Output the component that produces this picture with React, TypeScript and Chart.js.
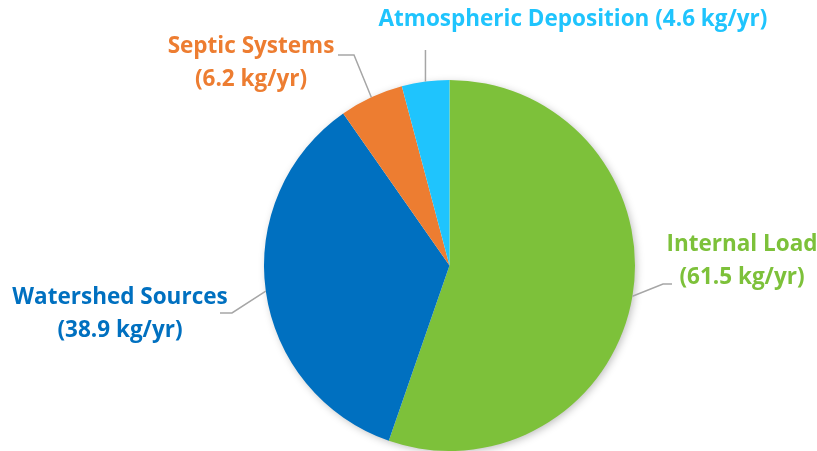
import React, { useEffect, useRef } from "react";
import { Chart, registerables } from "chart.js";

Chart.register(...registerables);

const categories = ["Internal Load", "Watershed Sources", "Septic Systems", "Atmospheric Deposition"];
const loads = [61.5, 38.9, 6.2, 4.6];
const valueLabels = ["(61.5 kg/yr)", "(38.9 kg/yr)", "(6.2 kg/yr)", "(4.6 kg/yr)"];
const colors = ["#7DC13A", "#0070C0", "#ED7D31", "#1FC4FD"];

// label layout: leader elbow + end, text anchor, single/two-line
const labelLayout = [
  { elbow: [663, 284], end: [672, 284], text: [742, 245], lines: 2 },
  { elbow: [232, 313], end: [220, 313], text: [120, 298], lines: 2 },
  { elbow: [354, 55], end: [338, 55], text: [251, 47], lines: 2 },
  { elbow: null, end: null, text: [573, 20], lines: 1, vertTo: 50 },
];

const FONT = "bold 22.5px 'Open Sans', Lato, sans-serif";

const shadowPlugin = {
  id: "pieShadow",
  beforeDatasetsDraw(chart: any) {
    const meta = chart.getDatasetMeta(0);
    const arc = meta.data[0];
    if (!arc) return;
    const { x, y, outerRadius } = arc.getProps(["x", "y", "outerRadius"], true);
    const ctx = chart.ctx;
    ctx.save();
    ctx.shadowColor = "rgba(0,0,0,0.28)";
    ctx.shadowBlur = 9;
    ctx.shadowOffsetX = 2;
    ctx.shadowOffsetY = 2;
    ctx.fillStyle = "#ffffff";
    ctx.beginPath();
    ctx.arc(x, y, outerRadius - 1, 0, Math.PI * 2);
    ctx.fill();
    ctx.restore();
  },
};

const labelPlugin = {
  id: "leaderLabels",
  afterDatasetsDraw(chart: any) {
    const meta = chart.getDatasetMeta(0);
    const ctx = chart.ctx;
    ctx.save();
    meta.data.forEach((arc: any, i: number) => {
      const { x, y, startAngle, endAngle, outerRadius } = arc.getProps(
        ["x", "y", "startAngle", "endAngle", "outerRadius"],
        true
      );
      const mid = (startAngle + endAngle) / 2;
      const px = x + Math.cos(mid) * outerRadius;
      const py = y + Math.sin(mid) * outerRadius;
      const lay: any = labelLayout[i];
      ctx.strokeStyle = "#A6A6A6";
      ctx.lineWidth = 1.5;
      ctx.beginPath();
      ctx.moveTo(px, py);
      if (lay.vertTo !== undefined) {
        ctx.lineTo(px, lay.vertTo);
      } else {
        ctx.lineTo(lay.elbow[0], lay.elbow[1]);
        ctx.lineTo(lay.end[0], lay.end[1]);
      }
      ctx.stroke();

      ctx.fillStyle = colors[i];
      ctx.font = FONT;
      ctx.textAlign = "center";
      ctx.textBaseline = "middle";
      if (lay.lines === 1) {
        ctx.fillText(categories[i] + " " + valueLabels[i], lay.text[0], lay.text[1]);
      } else {
        ctx.fillText(categories[i], lay.text[0], lay.text[1]);
        ctx.fillText(valueLabels[i], lay.text[0], lay.text[1] + 33);
      }
    });
    ctx.restore();
  },
};

export default function App() {
  const ref = useRef<HTMLCanvasElement>(null);
  useEffect(() => {
    document.body.style.margin = "0";
    const chart = new Chart(ref.current!, {
      type: "pie",
      data: {
        labels: categories,
        datasets: [
          {
            data: loads,
            backgroundColor: colors,
            borderWidth: 0,
          },
        ],
      },
      options: {
        responsive: false,
        animation: false,
        layout: { padding: { left: 82, right: 0, top: 80, bottom: -1 } },
        plugins: {
          legend: { display: false },
          tooltip: { enabled: false },
        },
      },
      plugins: [shadowPlugin, labelPlugin],
    });
    return () => chart.destroy();
  }, []);
  return (
    <div style={{ width: 817, height: 451 }}>
      <canvas ref={ref} width={817} height={451} />
    </div>
  );
}
